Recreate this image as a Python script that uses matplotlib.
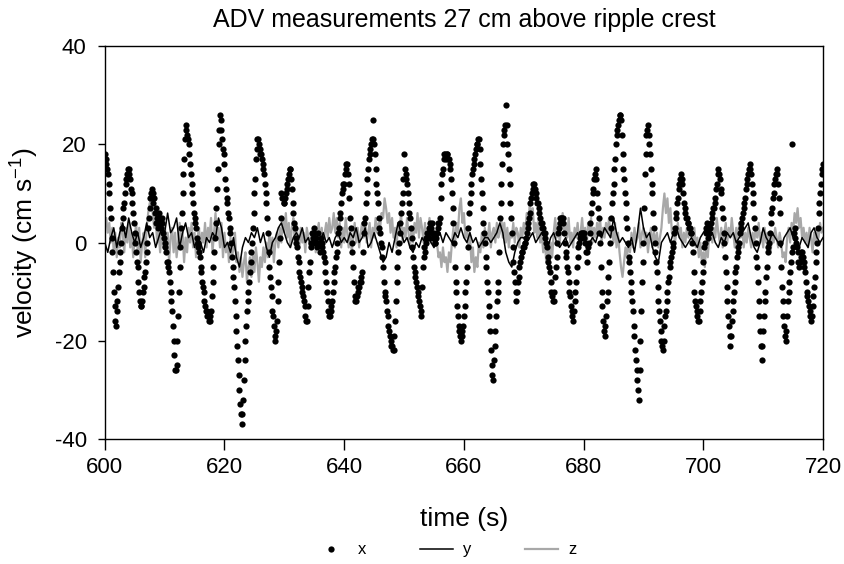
import numpy as np
import matplotlib
matplotlib.use("Agg")
import matplotlib.pyplot as plt

plt.rcParams['font.family'] = ['Liberation Sans', 'DejaVu Sans']
plt.rcParams['mathtext.default'] = 'regular'
plt.rcParams['axes.unicode_minus'] = False

# sampling of the three velocity components (s)
t_start = 600.0
dt_x = 0.125
dt_y = 0.5
dt_z = 0.25

# x component (cm/s), 8 values per second, one row per second
vel_x = [
    18, 17, 16, 15, 14, 12, 10, 7,        # 600
    5, 1, -2, -6, -10, -13, -16, -17,     # 601
    -14, -12, -9, -6, -4, -2, 0, 3,
    5, 7, 8, 10, 12, 13, 14, 15,
    15, 14, 13, 11, 10, 8, 6, 4,
    2, 0, -2, -4, -5, -8, -10, -12,       # 605
    -13, -13, -12, -10, -9, -7, -6, -4,
    -2, 0, 3, 5, 7, 9, 10, 11,
    10, 8, 9, 6, 7, 4, 5, 3,
    4, 6, 5, 3, 4, 5, 2, 1,
    0, -1, -2, -4, -4, -5, -6, -8,        # 610
    -10, -12, -14, -17, -20, -23, -26, -26,
    -25, -20, -15, -10, -5, -1, 3, 6,
    10, 14, 17, 21, 24, 23, 22, 21,
    20, 18, 16, 14, 12, 10, 8, 6,
    5, 4, 3, 1, 0, -1, -2, -3,            # 615
    -5, -6, -8, -9, -10, -12, -13, -14,
    -14, -15, -15, -16, -16, -15, -14, -11,
    -8, -5, -2, 1, 4, 7, 11, 15,
    20, 23, 26, 25, 23, 21, 19, 18,
    16, 13, 11, 9, 8, 6, 5, 3,            # 620
    2, 0, -3, -5, -7, -9, -12, -15,
    -18, -21, -24, -27, -30, -33, -35, -37,
    -35, -32, -28, -24, -20, -17, -14, -12,
    -10, -8, -6, -4, -2, 0, 3, 6,
    10, 13, 17, 19, 21, 21, 20, 19,       # 625
    18, 18, 17, 16, 15, 14, 12, 10,
    8, 5, 2, -2, -5, -7, -9, -11,
    -14, -15, -17, -19, -20, -18, -16, -12,
    -8, -4, 1, 5, 10, 9, 9, 8,
    8, 9, 10, 11, 12, 13, 14, 15,         # 630
    15, 13, 11, 8, 6, 4, 3, 1,
    0, -1, -3, -4, -6, -7, -8, -9,
    -10, -11, -12, -13, -15, -16, -16, -13,
    -9, -6, -4, -1, 0, 2, 1, 3,
    2, 0, 1, -1, 0, 2, 0, -2,             # 635
    0, 1, 0, -1, -2, -3, -4, -6,
    -8, -10, -12, -14, -15, -15, -14, -13,
    -12, -10, -8, -6, -5, -3, -2, 0,
    2, 3, 5, 6, 8, 10, 11, 12,
    12, 14, 15, 16, 16, 14, 12, 9,        # 640
    5, 3, 0, -2, -5, -8, -11, -12,
    -12, -11, -10, -9, -9, -8, -8, -7,
    -6, -2, 2, 4, 5, 8, 10, 13,
    15, 17, 18, 19, 20, 21, 21, 25,
    20, 18, 15, 12, 10, 8, 5, 3,          # 645
    2, 0, -1, -3, -5, -8, -10, -11,
    -12, -14, -15, -17, -18, -19, -20, -21,
    -21, -22, -22, -19, -16, -12, -8, -5,
    -2, 0, 2, 4, 6, 8, 10, 13,
    18, 15, 14, 13, 12, 10, 8, 6,         # 650
    5, 3, 1, -1, -3, -5, -6, -7,
    -8, -9, -10, -11, -12, -13, -14, -15,
    -9, -5, -3, -1, -2, 1, 0, 2,
    2, 3, 1, 4, 3, 2, 4, 1,
    2, 0, 0, 1, 2, 3, 4, 4,               # 655
    5, 9, 12, 14, 15, 17, 18, 18,
    17, 18, 18, 17, 17, 16, 15, 13,
    10, 7, 4, 0, -5, -8, -10, -13,
    -15, -17, -18, -19, -20, -19, -18, -17,
    -15, -13, -10, -8, -5, -1, 3, 6,      # 660
    8, 10, 12, 14, 15, 16, 17, 18,
    19, 20, 20, 21, 21, 19, 16, 13,
    10, 7, 4, 2, 0, -3, -5, -8,
    -10, -13, -15, -18, -22, -25, -27, -28,
    -24, -21, -18, -15, -12, -10, -8, -2,  # 665
    5, 8, 12, 16, 20, 22, 23, 24,
    28, 24, 20, 18, 15, 12, 8, 5,
    2, -1, -4, -6, -8, -10, -12, -10,
    -8, -7, -5, -4, -3, -2, -2, -1,
    -1, 0, 0, 1, 2, 3, 4, 5,              # 670
    6, 8, 9, 10, 11, 12, 12, 11,
    10, 9, 8, 8, 7, 6, 5, 4,
    4, 3, 3, 2, 2, 1, 0, -1,
    -3, -4, -5, -6, -8, -10, -11, -12,
    -12, -10, -7, -5, -3, 0, 2, 3,        # 675
    4, 5, 5, 5, 5, 4, 2, 0,
    -2, -3, -5, -6, -8, -10, -11, -13,
    -14, -15, -16, -14, -12, -10, -8, -5,
    -3, -1, 0, 1, 1, 2, 2, 2,
    2, 1, 0, -2, -4, -2, -1, 0,           # 680
    2, 4, 6, 8, 10, 11, 13, 14,
    15, 13, 10, 7, 5, 2, 0, -5,
    -10, -13, -16, -18, -19, -17, -15, -12,
    -10, -7, -4, 0, 3, 5, 8, 10,
    12, 15, 17, 20, 22, 23, 24, 25,       # 685
    26, 26, 25, 22, 18, 15, 13, 10,
    8, 5, 3, 0, -3, -4, -6, -8,
    -10, -12, -14, -17, -19, -22, -24, -26,
    -28, -30, -32, -26, -20, -14, -8, -4,
    0, 7, 14, 18, 22, 23, 24, 22,         # 690
    20, 18, 15, 12, 10, 6, 3, 0,
    -2, -4, -6, -9, -12, -14, -16, -18,
    -20, -21, -22, -20, -17, -15, -14, -12,
    -10, -8, -7, -5, -4, -3, -2, -1,
    0, 2, 3, 5, 6, 8, 9, 11,              # 695
    12, 13, 14, 13, 12, 10, 8, 7,
    6, 5, 5, 4, 4, 3, 3, 2,
    2, 0, -2, -6, -10, -12, -13, -14,
    -15, -16, -16, -14, -12, -10, -8, -6,
    -4, -1, 0, 3, 2, 4, 1, 3,             # 700
    2, 3, 4, 5, 6, 7, 7, 8,
    9, 11, 12, 14, 15, 14, 13, 11,
    10, 7, 5, 2, 0, -3, -6, -9,
    -12, -15, -17, -19, -21, -19, -16, -14,
    -12, -10, -8, -6, -5, -3, -2, -1,     # 705
    0, 2, 3, 4, 5, 6, 7, 8,
    9, 11, 12, 13, 14, 15, 16, 15,
    14, 12, 10, 8, 5, 3, 0, -3,
    -5, -8, -12, -15, -18, -21, -24, -21,
    -18, -15, -12, -10, -7, -5, -2, -1,   # 710
    0, 2, 4, 6, 7, 9, 10, 12,
    13, 14, 15, 14, 12, 9, 6, 0,
    -5, -9, -12, -15, -17, -19, -20, -18,
    -15, -12, -10, -8, -6, -4, 20, -2,
    -1, 2, 1, 3, 0, -1, -2, -4,           # 715
    -5, -4, -3, -2, -2, -3, -4, -5,
    -6, -8, -10, -11, -12, -13, -14, -15,
    -16, -15, -13, -11, -9, -7, -4, -2,
    0, 3, 6, 8, 10, 12, 14, 15,
    16,                                   # 720
]

# y component (cm/s), 2 values per second
vel_y = [
    0, -2,  1, 3,  -1, 2,  4, 1,  5, 2,  0, 2,  -1, 1,  4, 1,  2, -1,  1, 3,
    2, 6,  2, 3,  5, -1,  2, 4,  1, 2,  -1, 1,  0, -2,  1, 0,  2, 1,  5, 3,
    -1, 0,  -2, 1,  -3, -5,  -1, 1,  0, 2,  1, 3,  0, 2,  -1, -3,  0, 1,  3, 4,
    2, 0,  -1, 1,  2, 1,  3, 0,  1, -1,  2, -1,  0, 2,  0, 1,  -1, 1,  2, 0,
    1, 0,  2, 1,  3, 0,  1, 3,  -1, 0,  2, 0,  -2, -4,  -3, 0,  -2, 1,  4, 2,
    0, 1,  -1, -2,  0, -1,  1, 0,  2, 0,  -1, 1,  2, 0,  2, 1,  0, 2,  1, 3,
    1, 0,  2, 0,  1, -1,  0, 1,  1, 0,  1, 2,  4, 2,  -2, -4,  -5, -2,  0, 1,
    1, 0,  1, 2,  0, 1,  2, 1,  -1, 1,  2, 0,  -1, 0,  1, -1,  0, 1,  2, 0,
    1, -1,  0, 1,  0, 2,  1, 3,  2, 1,  5, 2,  0, 1,  0, -1,  1, -2,  2, 7,
    3, 1,  2, -1,  -3, -4,  0, 1,  2, 0,  2, 3,  1, 0,  -1, 0,  1, 0,  -1, 1,
    2, 3,  1, 2,  0, -1,  1, 0,  2, 1,  2, 0,  1, 2,  3, 4,  1, -1,  -2, 0,
    3, 1,  0, 2,  1, 0,  -1, 1,  2, 3,  1, 0,  -1, 1,  0, -1,  2, 3,  1, 0,
    1,
]

# z component (cm/s), 4 values per second
vel_z = [
    3, 5, 2, 4,   0, 3, -2, 2,   -3, 1, -1, 4,   2, -2, 3, 0,   4, -1, 2, -3,
    1, 4, -2, 3,   -4, 0, 2, -3,   3, 6, 8, 9,   6, 3, 5, 0,   2, -2, 3, -1,
    4, 0, 2, -4,   1, 3, -2, 2,   -3, 0, 4, -1,   2, -4, 1, -2,   3, 0, 4, -1,
    2, -3, 1, 3,   -2, 2, 0, 4,   -1, 3, 1, 5,   -2, 2, 6, 1,   3, -1, 4, -3,
    2, -2, 0, -4,   1, -3, -1, 2,   -4, -2, -6, -3,   -7, -4, -2, -8,   -5, -3, -7, -2,
    -6, -1, -4, -8,   -3, -5, -1, -4,   0, -3, 2, -2,   1, -4, 0, 2,   -1, 3, 0, 5,
    2, 6, 1, 4,   -1, 3, 5, 0,   4, 1, -1, 3,   0, 2, -2, 3,   1, -1, 2, 0,
    3, -2, 2, 4,   0, 3, -1, 2,   4, 1, 5, 2,   3, 6, 2, 5,   1, 4, -1, 3,
    0, 5, 2, -1,   3, -2, 1, 4,   0, 3, -1, 2,   4, 1, 5, 0,   2, 4, -1, 3,
    1, 5, 2, 4,   3, 6, 5, 9,   7, 4, 6, 2,   5, 1, 3, -1,   4, 2, 6, 0,
    3, 1, 5, 2,   -1, 3, 0, 4,   2, 6, 1, 5,   3, 0, 4, -2,   2, 5, 0, 3,
    -1, 2, 0, -3,   -2, -5, -1, -4,   -3, -6, -2, -4,   0, 3, -1, 4,   2, 7, 9, 4,
    6, 1, 3, -1,   2, -4, -1, -6,   -3, -5, 0, -2,   2, -1, 3, 0,   1, 4, -1, 2,
    3, 0, 4, 1,   2, 5, 1, 4,   0, 3, -1, 2,   1, 4, 0, 3,   2, -1, 3, 1,
    4, 2, 6, 3,   8, 5, 7, 2,   4, 1, 5, 0,   2, -2, 1, -4,   -1, -5, 0, -3,
    2, 5, 1, 4,   0, 3, 6, 2,   4, 1, 5, 0,   2, -1, 3, 1,   4, 0, 2, 5,
    1, 3, -1, 4,   2, 5, 0, 3,   1, 4, 2, 5,   0, 3, 1, 4,   2, 5, 1, 3,
    0, 4, -1, 2,   -2, -5, -7, -4,   -1, -3, 0, -2,   2, -1, 3, 0,   1, 4, -1, 2,
    3, 0, 2, -2,   1, 3, -1, 2,   0, 2, -1, 1,   3, 7, 10, 6,   9, 4, 7, 2,
    3, 0, 2, 4,   1, 3, -1, 2,   0, 3, 1, 4,   2, 0, 3, -1,   1, -3, 0, -4,
    -2, -5, 0, -3,   2, 4, 0, 3,   1, 5, 2, 0,   3, -1, 2, 4,   0, 3, 1, 5,
    2, -1, 3, 0,   4, 1, 3, -1,   2, 0, 3, 1,   -1, 2, 0, 3,   1, 4, 0, 2,
    -1, 3, 0, 2,   1, -2, 2, 0,   3, 1, -1, 2,   0, -3, -2, -4,   1, 3, 0, 4,
    2, 6, 4, 7,   3, 5, 1, 3,   0, 2, -1, 3,   1, -2, 2, 0,   3, 1, 4, 2,
    3,
]

t_x = t_start + dt_x * np.arange(len(vel_x))
t_y = t_start + dt_y * np.arange(len(vel_y))
t_z = t_start + dt_z * np.arange(len(vel_z))

fig = plt.figure(figsize=(8.45, 5.64), dpi=100)
ax = fig.add_axes([0.124, 0.222, 0.850, 0.696])

ax.plot(t_z, vel_z, color='#a8a8a8', lw=1.6, zorder=1, label='z')
ax.plot(t_x, vel_x, 'o', color='black', ms=4.5, mec='none', zorder=2, label='x')
ax.plot(t_y, vel_y, color='black', lw=1.1, zorder=3, label='y')

ax.set_xlim(600, 720)
ax.set_ylim(-40, 40)
ax.set_xticks([600, 620, 640, 660, 680, 700, 720])
ax.set_yticks([-40, -20, 0, 20, 40])
ax.tick_params(axis='x', direction='out', length=8, width=1, labelsize=16, pad=5)
ax.tick_params(axis='y', direction='out', length=5, width=1, labelsize=16, pad=8)
for s in ax.spines.values():
    s.set_linewidth(1.0)

ax.set_xlabel('time (s)', fontsize=19, labelpad=21)
ax.set_ylabel('velocity (cm s$^{-1}$)', fontsize=19, labelpad=10)
ax.set_title('ADV measurements 27 cm above ripple crest', fontsize=18, pad=14)

h, l = ax.get_legend_handles_labels()
order = [1, 2, 0]
fig.legend([h[i] for i in order], [l[i] for i in order], loc='center',
           bbox_to_anchor=(0.527, 0.025), ncol=3, frameon=False, fontsize=12,
           handlelength=2.0, handletextpad=0.6, columnspacing=3.2)

fig.savefig('out.png', dpi=100)
